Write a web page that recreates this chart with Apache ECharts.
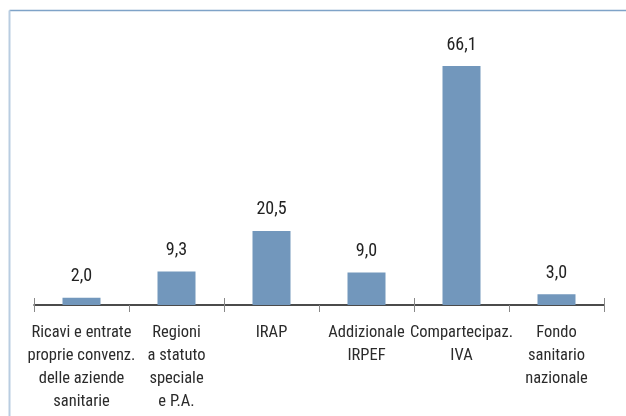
<!DOCTYPE html>
<html>
<head>
<meta charset="utf-8">
<script src="https://cdn.jsdelivr.net/npm/echarts@6/dist/echarts.min.js"></script>
<style>
  html, body { margin: 0; padding: 0; background: #fff; }
  #main { width: 626px; height: 416px; }
</style>
</head>
<body>
<div id="main"></div>
<script>
  // categorie e valori (%)
  const categories = [
    'Ricavi e entrate\nproprie convenz.\ndelle aziende\nsanitarie',
    'Regioni\na statuto\nspeciale\ne P.A.',
    'IRAP',
    'Addizionale\nIRPEF',
    'Compartecipaz.\nIVA',
    'Fondo\nsanitario\nnazionale'
  ];
  const values = [2.0, 9.3, 20.5, 9.0, 66.1, 3.0];

  const fontName = '"Roboto Condensed", "Liberation Sans Narrow", sans-serif';

  let myChart = echarts.init(document.getElementById('main'));

  let option = {
    animation: false,
    backgroundColor: '#fff',
    graphic: [
      { type: 'line', shape: { x1: 9.5, y1: 10.5, x2: 626, y2: 10.5 }, style: { stroke: '#7fa3c8', lineWidth: 1.5 } },
      { type: 'line', shape: { x1: 9.5, y1: 10.5, x2: 9.5, y2: 416 }, style: { stroke: '#b9cde1', lineWidth: 2 } }
    ],
    grid: { left: 34, right: 22, top: 52, bottom: 111 },
    xAxis: [
      {
        type: 'category',
        data: categories,
        axisLine: { lineStyle: { color: '#111', width: 1.5 } },
        axisTick: { show: true, length: 7, lineStyle: { color: '#888' } },
        axisLabel: {
          interval: 0,
          margin: 16,
          fontFamily: fontName,
          fontSize: 16.5,
          lineHeight: 23,
          color: '#2b2b2b'
        }
      },
      {
        type: 'category',
        data: categories,
        position: 'bottom',
        axisLine: { show: false },
        axisTick: { show: true, inside: true, length: 7, lineStyle: { color: '#888' } },
        axisLabel: { show: false }
      }
    ],
    yAxis: {
      type: 'value',
      min: 0,
      max: 70,
      show: false,
      splitLine: { show: false }
    },
    series: [
      {
        type: 'bar',
        data: values,
        barWidth: '40%',
        itemStyle: { color: '#7297bc' },
        label: {
          show: true,
          position: 'top',
          distance: 12,
          fontFamily: fontName,
          fontSize: 18,
          color: '#222',
          formatter: p => p.value.toFixed(1).replace('.', ',')
        }
      }
    ]
  };

  myChart.setOption(option);
</script>
</body>
</html>
